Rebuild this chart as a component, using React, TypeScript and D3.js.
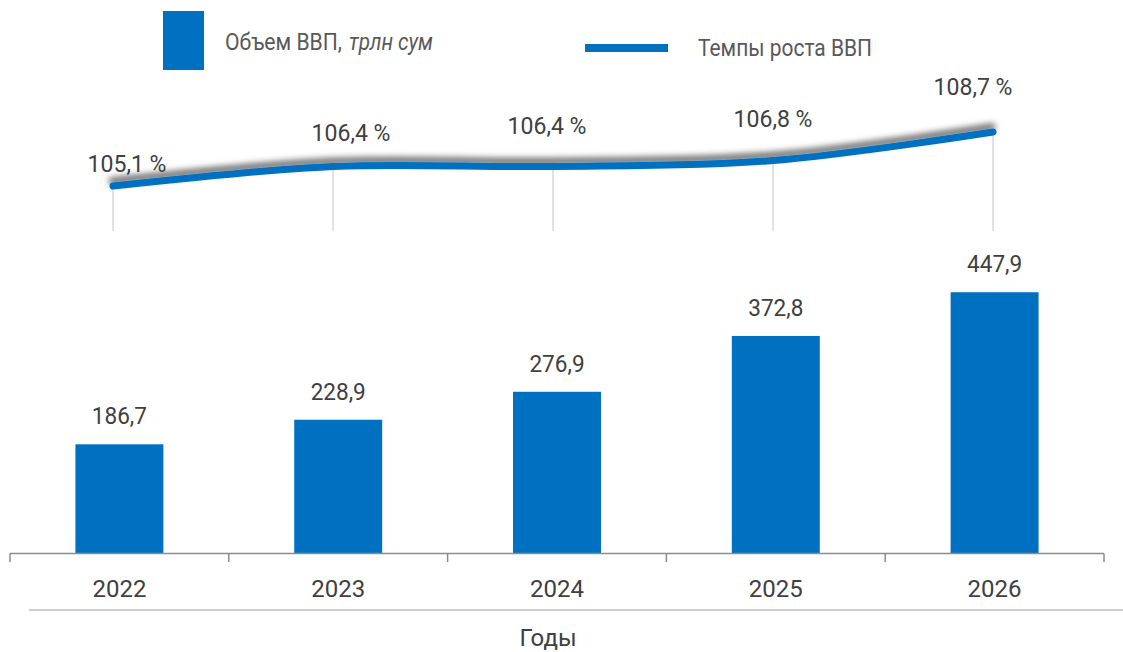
import { useEffect, useRef } from 'react';
import * as d3 from 'd3';

const years = ['2022', '2023', '2024', '2025', '2026'];
const gdpVolume = [186.7, 228.9, 276.9, 372.8, 447.9];
const gdpGrowth = [105.1, 106.4, 106.4, 106.8, 108.7];

// hand placement of the growth labels (as in the source chart)
const growthLabelDx = [14, 18, -6, 0, -20];
const growthLabelDy = [-14, -26, -33, -34, -37];

const BLUE = '#0070C0';
const TEXT = '#404040';
const FONT = 'Roboto, "Noto Sans", sans-serif';

const fmt = (v: number) => v.toFixed(1).replace('.', ',');

const App = () => {
  const svgRef = useRef<SVGSVGElement>(null);

  useEffect(() => {
    const width = 1123;
    const height = 652;

    d3.select(svgRef.current).selectAll('*').remove();

    const svg = d3.select(svgRef.current)
      .attr('width', width)
      .attr('height', height)
      .style('font-family', FONT);

    // shadow for the growth line
    const defs = svg.append('defs');
    const filter = defs.append('filter')
      .attr('id', 'lineShadow')
      .attr('x', '-10%').attr('y', '-50%')
      .attr('width', '120%').attr('height', '200%');
    filter.append('feGaussianBlur').attr('in', 'SourceAlpha').attr('stdDeviation', 3).attr('result', 'blur');
    filter.append('feOffset').attr('in', 'blur').attr('dx', -1).attr('dy', -5).attr('result', 'off');
    filter.append('feFlood').attr('flood-color', '#000').attr('flood-opacity', 0.6);
    filter.append('feComposite').attr('in2', 'off').attr('operator', 'in').attr('result', 'shadow');
    const merge = filter.append('feMerge');
    merge.append('feMergeNode').attr('in', 'shadow');
    merge.append('feMergeNode').attr('in', 'SourceGraphic');

    // ---- bars ----
    const x = d3.scaleBand()
      .domain(years)
      .range([10, 1104])
      .paddingInner(0.598)
      .paddingOuter(0.299);

    const yBar = d3.scaleLinear()
      .domain([0, 450])
      .range([553, 291]);

    svg.append('g')
      .selectAll('rect')
      .data(gdpVolume)
      .enter()
      .append('rect')
      .attr('x', (_, i) => x(years[i]) as number)
      .attr('y', d => yBar(d))
      .attr('width', x.bandwidth())
      .attr('height', d => yBar(0) - yBar(d))
      .style('fill', BLUE);

    svg.append('g')
      .selectAll('text')
      .data(gdpVolume)
      .enter()
      .append('text')
      .attr('transform', (d, i) => `translate(${(x(years[i]) as number) + x.bandwidth() / 2},${yBar(d) - 20}) scale(0.94,1)`)
      .attr('text-anchor', 'middle')
      .style('font-size', '24px')
      .style('fill', TEXT)
      .text(d => fmt(d));

    // category axis with ticks between categories
    const axisY = 553.5;
    const edges = years.map(y => (x(y) as number) - x.step() * x.paddingInner() / 2).concat([1104]);
    edges[0] = 10;
    svg.append('line')
      .attr('x1', 10).attr('x2', 1104)
      .attr('y1', axisY).attr('y2', axisY)
      .style('stroke', '#8c8c8c').style('stroke-width', 1.5);
    svg.append('g')
      .selectAll('line')
      .data(edges)
      .enter()
      .append('line')
      .attr('x1', d => d).attr('x2', d => d)
      .attr('y1', axisY).attr('y2', 562)
      .style('stroke', '#8c8c8c').style('stroke-width', 1.5);

    svg.append('g')
      .selectAll('text')
      .data(years)
      .enter()
      .append('text')
      .attr('x', d => (x(d) as number) + x.bandwidth() / 2)
      .attr('y', 597)
      .attr('text-anchor', 'middle')
      .style('font-size', '24px')
      .style('fill', TEXT)
      .text(d => d);

    svg.append('line')
      .attr('x1', 29).attr('x2', 1123)
      .attr('y1', 610).attr('y2', 610)
      .style('stroke', '#bfbfbf').style('stroke-width', 1.5);

    svg.append('text')
      .attr('x', 548)
      .attr('y', 646)
      .attr('text-anchor', 'middle')
      .style('font-size', '24px')
      .style('fill', TEXT)
      .text('Годы');

    // ---- growth line ----
    const xLine = d3.scalePoint()
      .domain(years)
      .range([113, 993]);

    const yLine = d3.scaleLinear()
      .domain([105.1, 108.7])
      .range([186, 132]);

    svg.append('g')
      .selectAll('line')
      .data(gdpGrowth)
      .enter()
      .append('line')
      .attr('x1', (_, i) => xLine(years[i]) as number)
      .attr('x2', (_, i) => xLine(years[i]) as number)
      .attr('y1', d => yLine(d))
      .attr('y2', 231)
      .style('stroke', '#d9d9d9').style('stroke-width', 1.5);

    const line = d3.line<number>()
      .x((_, i) => xLine(years[i]) as number)
      .y(d => yLine(d))
      .curve(d3.curveCatmullRom.alpha(0.5));

    svg.append('path')
      .datum(gdpGrowth)
      .attr('d', line)
      .attr('filter', 'url(#lineShadow)')
      .style('fill', 'none')
      .style('stroke', BLUE)
      .style('stroke-width', 7)
      .style('stroke-linecap', 'round');

    svg.append('g')
      .selectAll('text')
      .data(gdpGrowth)
      .enter()
      .append('text')
      .attr('transform', (d, i) => `translate(${(xLine(years[i]) as number) + growthLabelDx[i]},${yLine(d) + growthLabelDy[i]}) scale(0.96,1)`)
      .attr('text-anchor', 'middle')
      .style('font-size', '24px')
      .style('fill', TEXT)
      .text(d => `${fmt(d)} %`);

    // ---- legend ----
    svg.append('rect')
      .attr('x', 163).attr('y', 11)
      .attr('width', 41).attr('height', 59)
      .style('fill', BLUE);
    svg.append('text')
      .attr('x', 225).attr('y', 50)
      .attr('textLength', 117)
      .attr('lengthAdjust', 'spacingAndGlyphs')
      .style('font-size', '23px')
      .style('fill', '#595959')
      .text('Объем ВВП,');
    svg.append('text')
      .attr('x', 349).attr('y', 50)
      .attr('textLength', 84)
      .attr('lengthAdjust', 'spacingAndGlyphs')
      .style('font-size', '23px')
      .style('font-style', 'italic')
      .style('fill', '#595959')
      .text('трлн сум');

    svg.append('rect')
      .attr('x', 585).attr('y', 44)
      .attr('width', 83).attr('height', 8)
      .style('fill', BLUE);
    svg.append('text')
      .attr('x', 698).attr('y', 56)
      .attr('textLength', 174)
      .attr('lengthAdjust', 'spacingAndGlyphs')
      .style('font-size', '23px')
      .style('fill', '#595959')
      .text('Темпы роста ВВП');
  }, []);

  return (
    <div style={{ position: 'absolute', left: 0, top: 0 }}>
      <svg ref={svgRef}></svg>
    </div>
  );
};

export default App;
